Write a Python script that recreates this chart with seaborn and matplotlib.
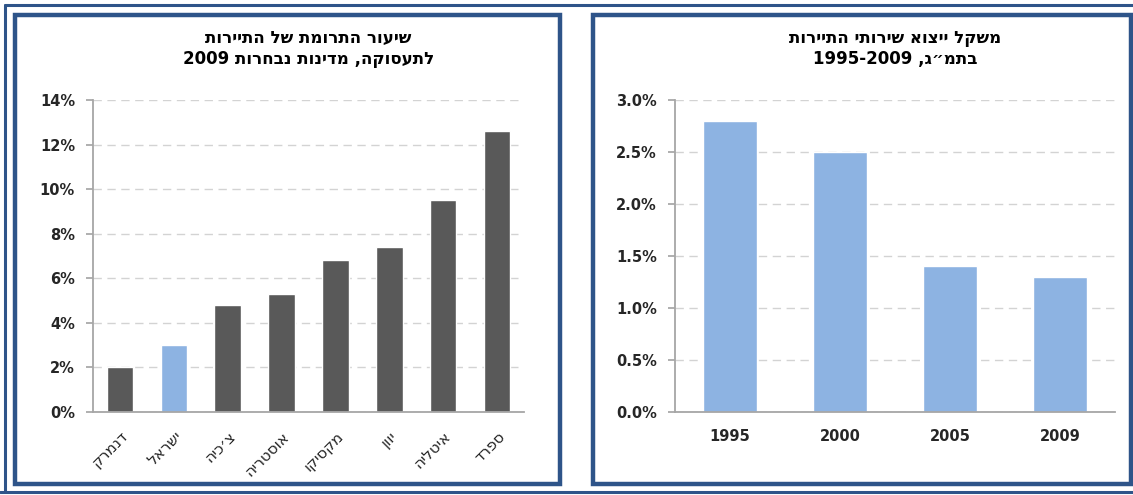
import re
import matplotlib
matplotlib.use("Agg")
import matplotlib.pyplot as plt
import seaborn as sns
import pandas as pd
from matplotlib.patches import Rectangle
from matplotlib.ticker import FuncFormatter

# ---- data ----
countries = ["דנמרק", "ישראל", "צ׳כיה", "אוסטריה", "מקסיקו", "יוון", "איטליה", "ספרד"]
employment_share = [2.0, 3.0, 4.8, 5.3, 6.8, 7.4, 9.5, 12.6]
years = ["1995", "2000", "2005", "2009"]
export_share = [2.8, 2.5, 1.4, 1.3]
title_left = "שיעור התרומת של התיירות\nלתעסוקה, מדינות נבחרות 2009"
title_right = "משקל ייצוא שירותי התיירות\nבתמ״ג, 1995-2009"


def rtl(s):
    out = []
    for line in s.split("\n"):
        r = line[::-1]
        r = re.sub(r"[0-9][0-9\-]*[0-9]|[0-9]", lambda m: m.group(0)[::-1], r)
        out.append(r)
    return "\n".join(out)


sns.set_theme(style="white")
plt.rcParams["font.family"] = ["DejaVu Sans"]

fig = plt.figure(figsize=(11.33, 4.95), dpi=100)
W, H = 1133, 495


def fx(x):
    return x / W


def fy(y):
    return 1 - y / H


navy = "#2E5489"
# outer lines
fig.add_artist(plt.Line2D([fx(5), fx(1133)], [fy(5), fy(5)], color=navy, lw=2.2, transform=fig.transFigure))
fig.add_artist(plt.Line2D([fx(0), fx(1133)], [fy(492), fy(492)], color=navy, lw=2.2, transform=fig.transFigure))
fig.add_artist(plt.Line2D([fx(5), fx(5)], [fy(5), fy(492)], color=navy, lw=2.2, transform=fig.transFigure))
# panel borders
fig.add_artist(Rectangle((fx(15), fy(484)), fx(560 - 15), (484 - 15) / H, fill=False,
                         ec=navy, lw=3.2, transform=fig.transFigure))
fig.add_artist(Rectangle((fx(593), fy(484)), fx(1131 - 593), (484 - 15) / H, fill=False,
                         ec=navy, lw=3.2, transform=fig.transFigure))

bar_dark = "#595959"
bar_blue = "#8DB3E2"
grid_c = "#D3D3D3"
spine_c = "#A6A6A6"
txt_c = "#262626"

# left chart
axL = fig.add_axes([fx(93), fy(412), fx(524 - 93), (412 - 100) / H])
dfL = pd.DataFrame({"country": [rtl(c) for c in countries], "value": employment_share})
palL = [bar_blue if c == "ישראל" else bar_dark for c in countries]
sns.barplot(data=dfL, x="country", y="value", hue="country", palette=palL, legend=False,
            ax=axL, width=0.49, saturation=1)
axL.set_ylim(0, 14)
axL.set_yticks(range(0, 15, 2))
axL.yaxis.set_major_formatter(FuncFormatter(lambda v, p: f"{int(v)}%"))
axL.set_xlabel("")
axL.set_ylabel("")
axL.set_xticks(range(len(countries)))
axL.set_xticklabels([rtl(c) for c in countries], rotation=45, ha="right",
                    rotation_mode="anchor", fontsize=11, color=txt_c)
axL.set_title(rtl(title_left), fontsize=12, fontweight="bold", pad=26, color="black")
axL.set_xlim(-0.5, len(countries) - 0.5)

# right chart
axR = fig.add_axes([fx(675), fy(412), fx(1115 - 675), (412 - 100) / H])
dfR = pd.DataFrame({"year": years, "value": export_share})
sns.barplot(data=dfR, x="year", y="value", color=bar_blue, ax=axR, width=0.49, saturation=1)
axR.set_ylim(0, 3.0)
axR.set_yticks([0, 0.5, 1.0, 1.5, 2.0, 2.5, 3.0])
axR.yaxis.set_major_formatter(FuncFormatter(lambda v, p: f"{v:.1f}%"))
axR.set_xlabel("")
axR.set_ylabel("")
axR.set_title(rtl(title_right), fontsize=12, fontweight="bold", pad=26, color="black")
axR.set_xlim(-0.5, len(years) - 0.5)
for lab in axR.get_xticklabels():
    lab.set_fontweight("bold")
    lab.set_fontsize(10.5)
    lab.set_color(txt_c)

for ax in (axL, axR):
    ax.set_axisbelow(True)
    ax.yaxis.grid(True, linestyle=(0, (6, 4)), color=grid_c, lw=1)
    ax.xaxis.grid(False)
    for s in ("top", "right"):
        ax.spines[s].set_visible(False)
    for s in ("left", "bottom"):
        ax.spines[s].set_color(spine_c)
        ax.spines[s].set_linewidth(1.3)
    ax.tick_params(axis="y", which="both", left=True, length=5, color=spine_c,
                   labelsize=10.5, labelcolor=txt_c, pad=8)
    ax.tick_params(axis="x", bottom=False, pad=6)
    for lab in ax.get_yticklabels():
        lab.set_fontweight("bold")
    ax.set_facecolor("white")

fig.savefig("out.png", dpi=100, facecolor="white")
